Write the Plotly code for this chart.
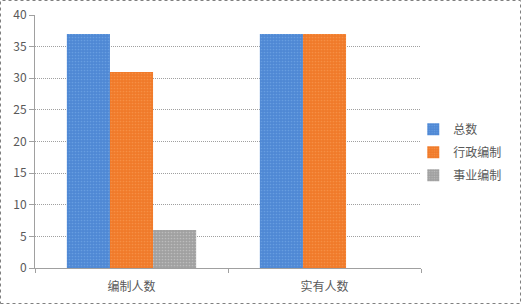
import plotly.graph_objects as go

categories = ["编制人数", "实有人数"]
series_names = ["总数", "行政编制", "事业编制"]
total = [37, 37]
admin = [31, 37]
public = [6, None]
y_ticks = [0, 5, 10, 15, 20, 25, 30, 35, 40]

colors = ["#4F88D4", "#F07A2A", "#A0A0A0"]
fg = ["#7FB2EC", "#F9A35E", "#D8D8D8"]

W, H = 521, 304
L, R, T, B = 35, 100, 15, 36
pw, ph = W - L - R, H - T - B

fig = go.Figure()
for name, vals, c, f in zip(series_names, [total, admin, public], colors, fg):
    fig.add_trace(go.Bar(
        name=name, x=categories, y=vals, legendgroup=name,
        marker=dict(color=c, line=dict(width=0),
                    pattern=dict(shape=".", fgcolor=f, bgcolor=c, size=3, solidity=0.25)),
    ))

fig.update_layout(
    width=W, height=H,
    margin=dict(l=L, r=R, t=T, b=B, autoexpand=False),
    paper_bgcolor="white", plot_bgcolor="white",
    barmode="group", bargap=0.33, bargroupgap=0,
    font=dict(family="Noto Sans CJK SC, DejaVu Sans", size=12, color="#595959"),
    legend=dict(x=0.98, y=0.458, xanchor="left", yanchor="middle",
                font=dict(size=12, color="#595959"), tracegroupgap=4,
                traceorder="grouped",
                itemwidth=30, bgcolor="rgba(0,0,0,0)"),
    showlegend=True,
    xaxis=dict(showline=True, linecolor="#A0A0A0", linewidth=1,
               ticks="outside", tickson="boundaries", ticklen=4, tickcolor="#A0A0A0",
               ticklabelstandoff=8,
               tickfont=dict(size=12, color="#595959"), showgrid=False),
    yaxis=dict(range=[0, 40], tickvals=y_ticks, showline=True, linecolor="#A0A0A0",
               ticks="outside", ticklen=5, tickcolor="#A0A0A0",
               showgrid=True, gridcolor="#A0A0A0", griddash="1px,1px", gridwidth=1,
               zeroline=False, tickfont=dict(size=12, color="#595959")),
)

fig.add_shape(type="rect", xref="paper", yref="paper",
              x0=(-L + 0.5) / pw, x1=(W - L - 0.5) / pw,
              y0=(-B + 0.5) / ph, y1=(H - B - 0.5) / ph,
              line=dict(color="#808080", width=1, dash="dot"))

fig.write_html("out.html")
